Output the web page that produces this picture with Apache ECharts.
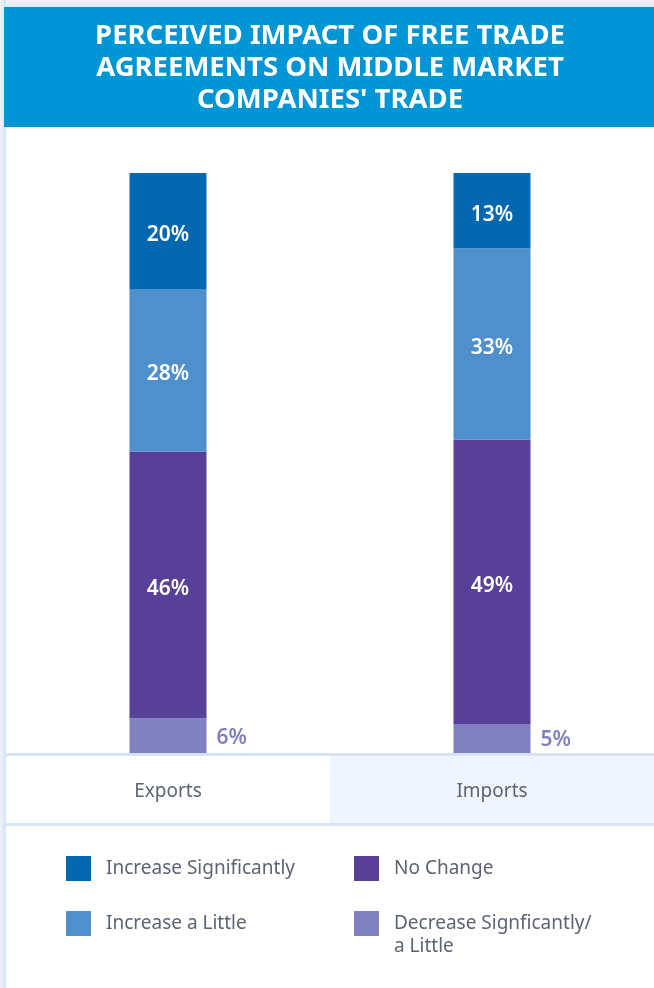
<!DOCTYPE html>
<html>
<head>
<meta charset="utf-8">
<title>Perceived Impact of Free Trade Agreements</title>
<script src="https://cdn.jsdelivr.net/npm/echarts@6/dist/echarts.min.js"></script>
<style>
  html, body { margin: 0; padding: 0; background: #ffffff; }
  #chart { width: 654px; height: 988px; }
</style>
</head>
<body>
<div id="chart"></div>
<script>
// Survey shares (%) for each trade direction
const categories = ['Exports', 'Imports'];
const increaseSignificantly = [20, 13];
const increaseALittle = [28, 33];
const noChange = [46, 49];
const decrease = [6, 5];

const seriesNames = [
  'Increase Significantly',
  'Increase a Little',
  'No Change',
  'Decrease Signficantly/ a Little'
];
const titleText = "PERCEIVED IMPACT OF FREE TRADE\nAGREEMENTS ON MIDDLE MARKET\nCOMPANIES' TRADE";

const colors = {
  sig: '#0468B1',
  little: '#4F8FCC',
  none: '#583F98',
  dec: '#7F80BF'
};
const FONT = '"Noto Sans", "Open Sans", sans-serif';

const chart = echarts.init(document.getElementById('chart'), null, { renderer: 'canvas' });

const insideLabel = {
  show: true,
  position: 'inside',
  offset: [0, 4],
  color: '#ffffff',
  fontFamily: FONT,
  fontSize: 21,
  fontWeight: 600,
  formatter: p => p.value + '%'
};

const legendText = {
  fontFamily: FONT,
  fontSize: 19,
  color: '#5C6472',
  lineHeight: 23,
  padding: [0, 0, 0, 10]
};

// one legend block per swatch so the 2x2 key keeps its columns;
// a wrapped name gets a blank lead line so its first line sits beside the swatch
function legendBlock(name, left, top) {
  return {
    orient: 'vertical',
    left: left,
    top: top,
    padding: 0,
    itemWidth: 25,
    itemHeight: 25,
    icon: 'rect',
    selectedMode: false,
    data: [name],
    formatter: n => (n.indexOf('/ ') >= 0 ? '\n' + n.replace('/ ', '/\n') : n),
    textStyle: legendText
  };
}

chart.setOption({
  animation: false,
  backgroundColor: '#ffffff',
  graphic: [
    // page frame strips
    {
      type: 'rect', z: -10, silent: true,
      shape: { x: 0, y: 0, width: 654, height: 8 },
      style: { fill: new echarts.graphic.LinearGradient(0, 0, 0, 1, [
        { offset: 0, color: '#f1f5fb' }, { offset: 1, color: '#dde8f5' }
      ]) }
    },
    {
      type: 'rect', z: -10, silent: true,
      shape: { x: 0, y: 0, width: 6, height: 988 },
      style: { fill: new echarts.graphic.LinearGradient(0, 0, 1, 0, [
        { offset: 0, color: '#eef3fa' }, { offset: 1, color: '#d5e3f5' }
      ]) }
    },
    // title band
    {
      type: 'rect', z: -5, silent: true,
      shape: { x: 4, y: 7, width: 650, height: 120 },
      style: { fill: '#0096D6' }
    },
    {
      type: 'text', z: 10, silent: true,
      x: 330, y: 20,
      style: {
        text: titleText,
        fill: '#ffffff',
        font: 'bold 27.5px "Noto Sans", "Open Sans", sans-serif',
        lineHeight: 32,
        align: 'center',
        verticalAlign: 'top'
      }
    },
    // category row
    {
      type: 'rect', z: -5, silent: true,
      shape: { x: 330, y: 755, width: 324, height: 68 },
      style: { fill: '#EEF5FD' }
    },
    {
      type: 'rect', z: -4, silent: true,
      shape: { x: 6, y: 753, width: 648, height: 3 },
      style: { fill: '#D5E3F5' }
    },
    {
      type: 'rect', z: -4, silent: true,
      shape: { x: 6, y: 823, width: 648, height: 3 },
      style: { fill: '#D5E3F5' }
    }
  ],
  legend: [
    legendBlock(seriesNames[0], 66, 856),
    legendBlock(seriesNames[1], 66, 911),
    legendBlock(seriesNames[2], 354, 856),
    legendBlock(seriesNames[3], 354, 889)
  ],
  grid: {
    left: 6,
    right: 0,
    top: 173,
    bottom: 235,
    containLabel: false
  },
  xAxis: {
    type: 'category',
    data: categories,
    axisLine: { show: false },
    axisTick: { show: false },
    splitLine: { show: false },
    axisLabel: {
      margin: 28,
      color: '#5C6472',
      fontFamily: FONT,
      fontSize: 19,
      lineHeight: 22
    }
  },
  yAxis: {
    type: 'value',
    min: 0,
    max: 100,
    show: false
  },
  series: [
    {
      name: seriesNames[3], type: 'bar', stack: 'total', barWidth: 77,
      data: decrease,
      itemStyle: { color: colors.dec },
      label: {
        show: true,
        position: 'right',
        distance: 10,
        offset: [0, 2],
        color: colors.dec,
        fontFamily: FONT,
        fontSize: 21,
        fontWeight: 600,
        formatter: p => p.value + '%'
      }
    },
    {
      name: seriesNames[2], type: 'bar', stack: 'total', barWidth: 77,
      data: noChange,
      itemStyle: { color: colors.none },
      label: insideLabel
    },
    {
      name: seriesNames[1], type: 'bar', stack: 'total', barWidth: 77,
      data: increaseALittle,
      itemStyle: { color: colors.little },
      label: insideLabel
    },
    {
      name: seriesNames[0], type: 'bar', stack: 'total', barWidth: 77,
      data: increaseSignificantly,
      itemStyle: { color: colors.sig },
      label: insideLabel
    }
  ]
});
</script>
</body>
</html>
